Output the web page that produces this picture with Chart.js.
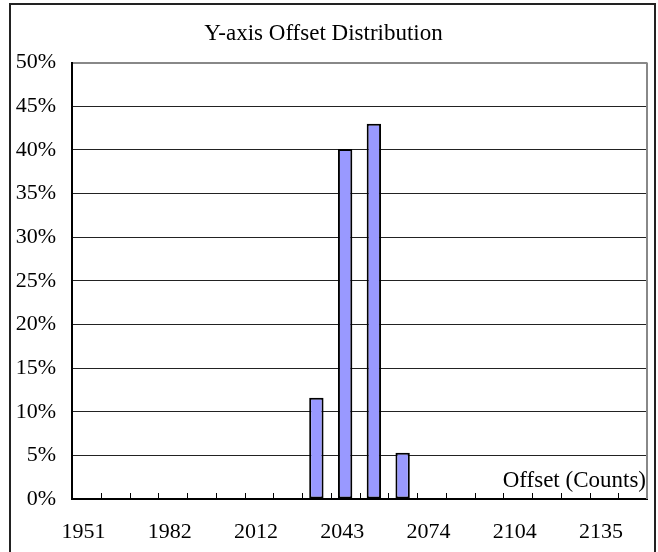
<!DOCTYPE html>
<html lang="en">
<head>
  <meta charset="UTF-8" />
  <title>Y-axis Offset Distribution</title>
  <style>
    html, body {
      margin: 0;
      padding: 0;
      background: #fff;
      overflow: hidden;
    }
    /* outer frame around the whole chart */
    .frame {
      position: absolute;
      left: 9px;
      top: 3px;
      width: 643px;
      height: 600px;
      border: 2px solid #222;
    }
    #chart {
      position: absolute;
      left: 0;
      top: 0;
    }
  </style>
</head>
<body>

<div class="frame"></div>
<canvas id="chart" width="658" height="552"></canvas>

<script src="https://cdn.jsdelivr.net/npm/chart.js"></script>

<script>
  // Offset bins (counts)
  const offsetBins = [
    '1951', '1961', '1971', '1982', '1992', '2002', '2012', '2023', '2033', '2043',
    '2053', '2063', '2074', '2084', '2094', '2104', '2115', '2125', '2135', '2145'
  ];

  // Share of samples in each bin (%)
  const binShare = [
    0, 0, 0, 0, 0, 0, 0, 0, 11.6, 40.1,
    43.0, 5.3, 0, 0, 0, 0, 0, 0, 0, 0
  ];

  // y-axis range and step (%)
  const yMin = 0;
  const yMax = 50;
  const yStep = 5;

  const chartTitle = 'Y-axis Offset Distribution';
  const xAxisTitle = 'Offset (Counts)';

  const serif = 'Liberation Serif';

  // draws the x tick marks (inside the plot), the right plot edge and the axis title
  const extrasPlugin = {
    id: 'extras',
    afterDatasetsDraw(chart) {
      const { ctx, chartArea } = chart;
      const x = chart.scales.x;
      const n = offsetBins.length;
      const step = x.width / n;

      ctx.save();
      ctx.strokeStyle = '#000';
      ctx.lineWidth = 1;
      ctx.beginPath();
      for (let i = 1; i < n; i++) {
        const px = Math.round(x.left + i * step) + 0.5;
        ctx.moveTo(px, chartArea.bottom);
        ctx.lineTo(px, chartArea.bottom - 6);
      }
      ctx.stroke();

      // right edge of the plot area
      ctx.strokeStyle = '#888';
      ctx.lineWidth = 2;
      ctx.beginPath();
      ctx.moveTo(chartArea.right, chartArea.top);
      ctx.lineTo(chartArea.right, chartArea.bottom);
      ctx.stroke();

      // axis title sits inside the plot, bottom right
      ctx.fillStyle = '#000';
      ctx.font = '23px "' + serif + '"';
      ctx.textAlign = 'right';
      ctx.textBaseline = 'alphabetic';
      ctx.fillText(xAxisTitle, chartArea.right - 1, chartArea.bottom - 12);
      ctx.restore();
    }
  };

  new Chart(document.getElementById('chart'), {
    type: 'bar',
    data: {
      labels: offsetBins,
      datasets: [{
        label: 'Share',
        data: binShare,
        backgroundColor: '#9999ff',
        borderColor: '#000',
        borderWidth: 2,
        borderSkipped: false,
        barPercentage: 0.5,
        categoryPercentage: 1
      }]
    },
    options: {
      responsive: false,
      animation: false,
      layout: {
        padding: { left: 0, right: 11, top: 0, bottom: 9 }
      },
      plugins: {
        legend: { display: false },
        tooltip: { enabled: false },
        title: {
          display: true,
          text: chartTitle,
          color: '#000',
          font: { family: serif, size: 23, weight: 'normal' },
          padding: { top: 20, bottom: 15 }
        }
      },
      scales: {
        x: {
          type: 'category',
          afterFit(scale) { scale.height = 44; },
          grid: { display: false, drawTicks: false },
          border: { color: '#000', width: 2 },
          ticks: {
            autoSkip: false,
            maxRotation: 0,
            padding: 20,
            labelOffset: -3,
            color: '#000',
            font: { family: serif, size: 22 },
            callback: function (value, index) {
              return index % 3 === 0 ? this.getLabelForValue(value) : '';
            }
          }
        },
        y: {
          min: yMin,
          max: yMax,
          afterFit(scale) { scale.width = 72; },
          grid: {
            drawTicks: false,
            color: (c) => (c.tick && c.tick.value === yMax ? '#888' : '#222'),
            lineWidth: (c) => (c.tick && c.tick.value === yMax ? 2 : 1)
          },
          border: { color: '#000', width: 2 },
          ticks: {
            stepSize: yStep,
            padding: 16,
            color: '#000',
            font: { family: serif, size: 22 },
            callback: (v) => v + '%'
          }
        }
      }
    },
    plugins: [extrasPlugin]
  });
</script>

</body>
</html>
